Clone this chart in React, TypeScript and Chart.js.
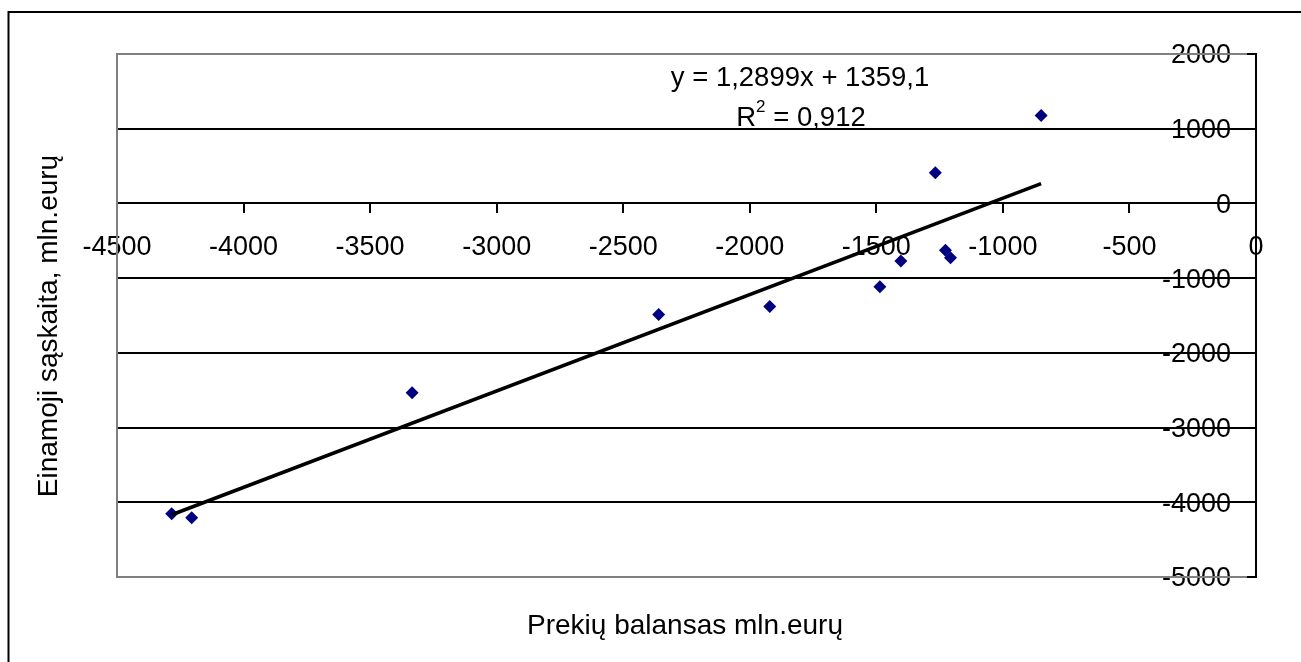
import React, { useEffect, useRef } from 'react';
import { Chart, registerables } from 'chart.js';

Chart.register(...registerables);

// Prekių balansas (x) and Einamoji sąskaita (y), mln. eurų
const tradeBalance = [-4284, -4205, -3334, -2360, -1921, -1486, -1403, -1267, -1227, -1207, -849];
const currentAccount = [-4154, -4208, -2535, -1486, -1379, -1115, -772, 411, -625, -727, 1178];

// Trend line as printed on the chart
const trendSlope = 1.2899;
const trendIntercept = 1359.1;
const equationLabel = 'y = 1,2899x + 1359,1';
const r2Label = '0,912';

const xAxisTitle = 'Prekių balansas mln.eurų';
const yAxisTitle = 'Einamoji sąskaita, mln.eurų';

const xMin = -4500;
const xMax = 0;
const xStep = 500;
const yMin = -5000;
const yMax = 2000;
const yStep = 1000;

const FONT = '"Liberation Sans", Arial, Helvetica, sans-serif';
const TICK_SIZE = 27;
const TEXT_SIZE = 27.5;
const TITLE_SIZE = 28;

export default function App() {
  const ref = useRef<HTMLCanvasElement | null>(null);

  useEffect(() => {
    const canvas = ref.current;
    if (!canvas) return;

    const points = tradeBalance.map((x, i) => ({ x, y: currentAccount[i] }));
    const tx0 = Math.min(...tradeBalance);
    const tx1 = Math.max(...tradeBalance);
    const trend = [
      { x: tx0, y: trendSlope * tx0 + trendIntercept },
      { x: tx1, y: trendSlope * tx1 + trendIntercept },
    ];

    const decorPlugin = {
      id: 'decor',
      beforeDraw(chart: any) {
        // value-axis labels sit to the left of the axis line, over the gridlines
        const ys = chart.scales.y;
        const items = ys.getLabelItems(chart.chartArea);
        if (items && !(items as any).__shifted) {
          items.forEach((it: any) => {
            if (it.options && it.options.translation) {
              it.options.translation[0] -= 25;
              it.options.translation[1] += 2;
            }
          });
          (items as any).__shifted = true;
        }
        const ctx = chart.ctx;
        ctx.save();
        ctx.fillStyle = '#ffffff';
        ctx.fillRect(0, 0, chart.width, chart.height);
        ctx.strokeStyle = '#000000';
        ctx.lineWidth = 2;
        ctx.strokeRect(8.5, 12, chart.width + 50, chart.height + 50);
        ctx.restore();
      },
      afterDraw(chart: any) {
        const ctx = chart.ctx;
        const a = chart.chartArea;
        ctx.save();
        // plot area frame (grey), right side is the black value axis
        ctx.strokeStyle = '#808080';
        ctx.lineWidth = 2;
        ctx.beginPath();
        ctx.moveTo(a.right - 9, a.top);
        ctx.lineTo(a.left, a.top);
        ctx.lineTo(a.left, a.bottom);
        ctx.lineTo(a.right - 9, a.bottom);
        ctx.stroke();

        ctx.fillStyle = '#000000';
        ctx.font = `${TEXT_SIZE}px ${FONT}`;
        ctx.textAlign = 'center';
        ctx.textBaseline = 'middle';
        // equation
        ctx.fillText(equationLabel, 800, 78);
        // R^2 line
        const main1 = 'R';
        const main2 = ' = ' + r2Label;
        const supFont = `${Math.round(TEXT_SIZE * 0.6)}px ${FONT}`;
        const w1 = ctx.measureText(main1).width;
        const w2 = ctx.measureText(main2).width;
        ctx.font = supFont;
        const ws = ctx.measureText('2').width;
        const total = w1 + ws + w2;
        let sx = 801 - total / 2;
        ctx.textAlign = 'left';
        ctx.font = `${TEXT_SIZE}px ${FONT}`;
        ctx.fillText(main1, sx, 118);
        sx += w1;
        ctx.font = supFont;
        ctx.fillText('2', sx, 107);
        sx += ws;
        ctx.font = `${TEXT_SIZE}px ${FONT}`;
        ctx.fillText(main2, sx, 118);

        // axis titles
        ctx.font = `${TITLE_SIZE}px ${FONT}`;
        ctx.textAlign = 'center';
        ctx.fillText(xAxisTitle, 685, 626);
        ctx.translate(49, 326);
        ctx.rotate(-Math.PI / 2);
        ctx.fillText(yAxisTitle, 0, 0);
        ctx.restore();
      },
    };

    const chart = new Chart(canvas, {
      type: 'scatter',
      data: {
        datasets: [
          {
            type: 'line',
            label: 'trend',
            data: trend,
            borderColor: '#000000',
            borderWidth: 3.5,
            pointRadius: 0,
            fill: false,
          } as any,
          {
            label: 'data',
            data: points,
            backgroundColor: '#000080',
            borderColor: '#000080',
            borderWidth: 0,
            pointStyle: 'rectRot',
            pointRadius: 6.5,
          },
        ],
      },
      options: {
        responsive: false,
        animation: false,
        devicePixelRatio: 1,
        layout: { padding: { left: 117, right: 45, top: 54, bottom: 85 } },
        plugins: {
          legend: { display: false },
          tooltip: { enabled: false },
        },
        scales: {
          x: {
            type: 'linear',
            min: xMin,
            max: xMax,
            position: { y: 0 } as any,
            ticks: {
              stepSize: xStep,
              color: '#000000',
              font: { family: FONT, size: TICK_SIZE },
              padding: 19,
              maxRotation: 0,
              autoSkip: false,
              callback: (v: any) => String(v),
            },
            grid: {
              drawOnChartArea: false,
              drawTicks: true,
              tickLength: 9,
              color: '#000000',
              tickColor: '#000000',
              lineWidth: 2,
            },
            border: { display: true, color: '#000000', width: 2 },
          },
          y: {
            type: 'linear',
            min: yMin,
            max: yMax,
            position: { x: 0 } as any,
            ticks: {
              stepSize: yStep,
              color: '#000000',
              font: { family: FONT, size: TICK_SIZE },
              padding: 16,
              autoSkip: false,
              callback: (v: any) => String(v),
            },
            grid: {
              drawOnChartArea: true,
              drawTicks: true,
              tickLength: 9,
              color: (c: any) =>
                c.tick && (c.tick.value === yMin || c.tick.value === yMax) ? 'rgba(0,0,0,0)' : '#000000',
              tickColor: '#000000',
              lineWidth: 2,
            },
            border: { display: true, color: '#000000', width: 2 },
          },
        },
      },
      plugins: [decorPlugin],
    });

    return () => chart.destroy();
  }, []);

  return (
    <canvas
      ref={ref}
      width={1301}
      height={662}
      style={{ position: 'fixed', left: 0, top: 0, width: 1301, height: 662, display: 'block' }}
    />
  );
}
